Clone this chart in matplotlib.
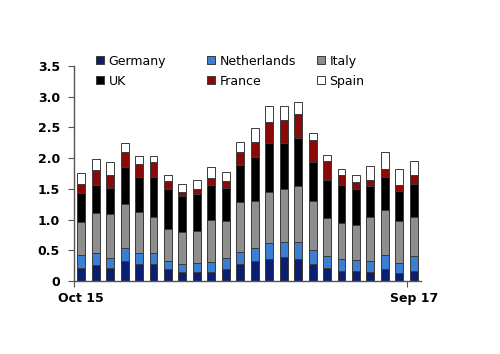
import numpy as np
import matplotlib
matplotlib.use('Agg')
import matplotlib.pyplot as plt

# monthly values, Oct 15 .. Sep 17
months = ['Oct 15', 'Nov 15', 'Dec 15', 'Jan 16', 'Feb 16', 'Mar 16', 'Apr 16', 'May 16',
          'Jun 16', 'Jul 16', 'Aug 16', 'Sep 16', 'Oct 16', 'Nov 16', 'Dec 16', 'Jan 17',
          'Feb 17', 'Mar 17', 'Apr 17', 'May 17', 'Jun 17', 'Jul 17', 'Aug 17', 'Sep 17']
germany = [0.22, 0.26, 0.21, 0.32, 0.27, 0.28, 0.19, 0.15, 0.15, 0.15, 0.19, 0.27,
           0.32, 0.36, 0.39, 0.36, 0.28, 0.21, 0.16, 0.16, 0.15, 0.20, 0.13, 0.17]
netherlands = [0.21, 0.20, 0.17, 0.21, 0.19, 0.17, 0.14, 0.13, 0.15, 0.16, 0.18, 0.21,
               0.22, 0.26, 0.25, 0.28, 0.22, 0.19, 0.20, 0.19, 0.17, 0.22, 0.16, 0.23]
italy = [0.53, 0.64, 0.71, 0.72, 0.66, 0.60, 0.51, 0.51, 0.51, 0.69, 0.60, 0.80,
         0.76, 0.83, 0.86, 0.90, 0.81, 0.62, 0.58, 0.57, 0.72, 0.74, 0.69, 0.64]
uk = [0.47, 0.47, 0.43, 0.61, 0.58, 0.65, 0.66, 0.59, 0.61, 0.57, 0.54, 0.60,
      0.72, 0.79, 0.74, 0.79, 0.62, 0.63, 0.62, 0.58, 0.51, 0.53, 0.49, 0.54]
france = [0.15, 0.24, 0.20, 0.24, 0.21, 0.23, 0.13, 0.07, 0.08, 0.11, 0.11, 0.22,
          0.24, 0.34, 0.38, 0.38, 0.36, 0.30, 0.17, 0.11, 0.10, 0.14, 0.10, 0.15]
spain = [0.18, 0.17, 0.21, 0.15, 0.13, 0.11, 0.10, 0.13, 0.15, 0.17, 0.16, 0.16,
         0.23, 0.26, 0.23, 0.21, 0.12, 0.10, 0.10, 0.12, 0.22, 0.27, 0.26, 0.23]

series = [('Germany', germany, '#0c1f6e'),
          ('Netherlands', netherlands, '#3a7fd2'),
          ('Italy', italy, '#8e8e8e'),
          ('UK', uk, '#000000'),
          ('France', france, '#8a0a0a'),
          ('Spain', spain, '#ffffff')]

fig = plt.figure(figsize=(5, 3.54), dpi=100)
ax = fig.add_axes([0.148, 0.206, 0.694, 0.608])

x = np.arange(len(months))
bottom = np.zeros(len(months))
handles = {}
for name, vals, col in series:
    b = ax.bar(x, vals, 0.55, bottom=bottom, color=col, edgecolor='#3a3a3a',
               linewidth=0.7, label=name)
    handles[name] = b
    bottom += np.array(vals)

ax.set_xlim(-0.5, len(months) - 0.5)
ax.set_ylim(0, 3.5)
ax.set_yticks(np.arange(0, 3.51, 0.5))
ax.set_yticklabels(['0' if v == 0 else '%.1f' % v for v in np.arange(0, 3.51, 0.5)],
                   fontweight='bold', fontsize=9)
ax.tick_params(axis='y', direction='out', length=4, color='#555555', pad=6)

# tick marks between categories, labels on first and last month
ax.set_xticks([-0.5, 22.5])
ax.set_xticklabels([])
ax.tick_params(axis='x', direction='out', length=4, color='#555555')
ax.set_xticks([0, 23], minor=True)
ax.set_xticklabels([months[0], months[-1]], minor=True, fontweight='bold', fontsize=9)
ax.tick_params(axis='x', which='minor', length=0, pad=8)

for s in ['top', 'right']:
    ax.spines[s].set_visible(False)
for s in ['left', 'bottom']:
    ax.spines[s].set_color('#555555')
    ax.spines[s].set_linewidth(1.0)

# legend in three columns
cols = [['Germany', 'UK'], ['Netherlands', 'France'], ['Italy', 'Spain']]
xpos = [0.192, 0.414, 0.634]
for names, xp in zip(cols, xpos):
    fig.legend([handles[n] for n in names], names, loc='upper left',
               bbox_to_anchor=(xp, 0.845), frameon=False, fontsize=9,
               handlelength=0.6, handleheight=0.6, handletextpad=0.4,
               labelspacing=0.55, borderpad=0, borderaxespad=0)

fig.savefig('out.png', dpi=100)
